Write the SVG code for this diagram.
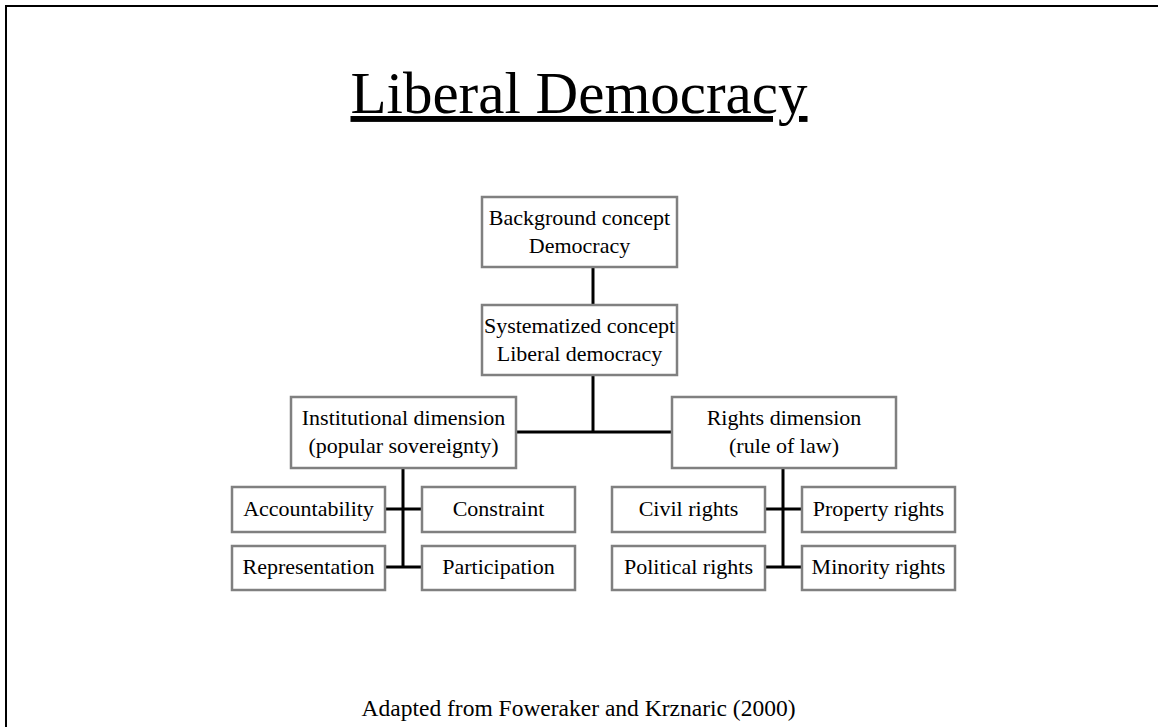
<svg xmlns="http://www.w3.org/2000/svg" width="1158" height="727" viewBox="0 0 1158 727">
<style>
.box{fill:#fff;stroke:#808080;stroke-width:2.5}
.t{font-family:"Liberation Serif","Times New Roman",serif;font-size:22px;fill:#000;text-anchor:middle}
.c{stroke:#000;stroke-width:3;fill:none}
</style>
<rect x="0" y="0" width="1158" height="727" fill="#fff"/>
<rect x="6" y="6" width="1170" height="740" fill="none" stroke="#000" stroke-width="2"/>
<text x="579" y="113" font-family="'Liberation Serif','Times New Roman',serif" font-size="59" text-anchor="middle" text-decoration="underline">Liberal Democracy</text>
<g id="connectors">
<line class="c" x1="593" y1="267" x2="593" y2="305"/>
<line class="c" x1="593" y1="375" x2="593" y2="432"/>
<line class="c" x1="516" y1="432" x2="672" y2="432"/>
<path class="c" d="M403 468V567M385 509H422M385 567H422"/>
<path class="c" d="M783 468V567M765 509H802M765 567H802"/>
</g>
<g id="background"><rect class="box" x="482" y="197" width="195" height="70"/><text class="t" x="579.5" y="225">Background concept</text><text class="t" x="579.5" y="253">Democracy</text></g>
<g id="systematized"><rect class="box" x="482" y="305" width="195" height="70"/><text class="t" x="579.5" y="333">Systematized concept</text><text class="t" x="579.5" y="361">Liberal democracy</text></g>
<g id="institutional"><rect class="box" x="291" y="397" width="225" height="71"/><text class="t" x="403.5" y="425">Institutional dimension</text><text class="t" x="403.5" y="453">(popular sovereignty)</text></g>
<g id="rights"><rect class="box" x="672" y="397" width="224" height="71"/><text class="t" x="784" y="425">Rights dimension</text><text class="t" x="784" y="453">(rule of law)</text></g>
<g id="accountability"><rect class="box" x="232" y="487" width="153" height="45"/><text class="t" x="308.5" y="516">Accountability</text></g>
<g id="constraint"><rect class="box" x="422" y="487" width="153" height="45"/><text class="t" x="498.5" y="516">Constraint</text></g>
<g id="representation"><rect class="box" x="232" y="546" width="153" height="44"/><text class="t" x="308.5" y="574">Representation</text></g>
<g id="participation"><rect class="box" x="422" y="546" width="153" height="44"/><text class="t" x="498.5" y="574">Participation</text></g>
<g id="civil"><rect class="box" x="612" y="487" width="153" height="45"/><text class="t" x="688.5" y="516">Civil rights</text></g>
<g id="property"><rect class="box" x="802" y="487" width="153" height="45"/><text class="t" x="878.5" y="516">Property rights</text></g>
<g id="political"><rect class="box" x="612" y="546" width="153" height="44"/><text class="t" x="688.5" y="574">Political rights</text></g>
<g id="minority"><rect class="box" x="802" y="546" width="153" height="44"/><text class="t" x="878.5" y="574">Minority rights</text></g>
<text x="578.5" y="716" font-family="'Liberation Serif','Times New Roman',serif" font-size="23.5" text-anchor="middle">Adapted from Foweraker and Krznaric (2000)</text>
</svg>
